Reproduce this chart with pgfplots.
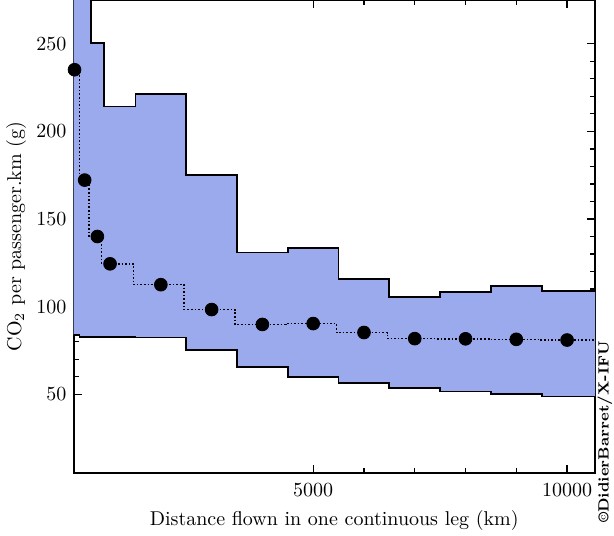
\documentclass[border=0pt]{standalone}
\usepackage{pgfplots}
\pgfplotsset{compat=1.18}
\usepackage{pgfplotstable}
\usepgfplotslibrary{fillbetween}
\definecolor{bandblue}{RGB}{154,170,236}

% band: left edge of each distance bin, upper and lower bound
\pgfplotstableread{
edge   up     lo
200    330    83.8
400    290    82.6
625    250.5  82.6
875    214.2  82.5
1500   221.2  82.4
2500   175.3  75.0
3500   130.9  65.5
4500   133.3  59.8
5500   115.9  56.3
6500   105.5  53.4
7500   108.3  51.5
8500   111.9  50.0
9500   108.7  48.7
10700  108.7  48.7
}\band

% mean per bin
\pgfplotstableread{
x      y
300    235.2
500    172.2
750    140.0
1000   124.4
2000   112.5
3000   98.3
4000   89.8
5000   90.3
6000   85.2
7000   81.7
8000   81.6
9000   81.3
10000  80.9
}\means

\pgfplotstableread{
x      y
10000  80.9
10700  80.9
}\tail

\begin{document}
\begin{tikzpicture}
\begin{axis}[
    scale only axis,
    width=260.75pt, height=236.5pt,
    xmin=280, xmax=10550,
    ymin=5, ymax=275,
    xtick={5000,10000},
    ytick={50,100,150,200,250},
    minor x tick num=4,
    minor y tick num=4,
    tick align=inside,
    major tick length=4pt,
    minor tick length=2.5pt,
    every tick/.style={black, line width=0.6pt},
    axis line style={line width=1pt},
    scaled x ticks=false,
    xticklabel style={/pgf/number format/1000 sep={}, yshift=-2pt},
    xlabel={Distance flown in one continuous leg (km)},
    ylabel={CO$_2$ per passenger.km (g)},
    ylabel style={at={(axis description cs:-0.11,0.5)}, anchor=center},
  ]

  \addplot[name path=up, draw=none, const plot mark left] table[x=edge, y=up] {\band};
  \addplot[name path=lo, draw=none, const plot mark left] table[x=edge, y=lo] {\band};
  \addplot[bandblue, draw=none] fill between[of=up and lo];

  \addplot[black, line width=0.9pt, const plot mark left] table[x=edge, y=up] {\band};
  \addplot[black, line width=0.9pt, const plot mark left] table[x=edge, y=lo] {\band};

  \addplot[black, line width=0.8pt, densely dotted, const plot mark mid] table {\means};
  \addplot[black, line width=0.8pt, densely dotted] table {\tail};

  \addplot[only marks, mark=*, mark size=3.2pt, black] table {\means};
\end{axis}
\node[rotate=90, anchor=west, font=\bfseries\fontsize{7.4}{9}\selectfont]
  at ([xshift=5pt, yshift=-28.5pt]current axis.south east) {\textcopyright DidierBarret/X-IFU};
\pgfresetboundingbox
\path (current axis.south west) +(-36.75pt,-31pt) (current axis.north east) +(9.5pt,0pt);
\end{tikzpicture}
\end{document}
